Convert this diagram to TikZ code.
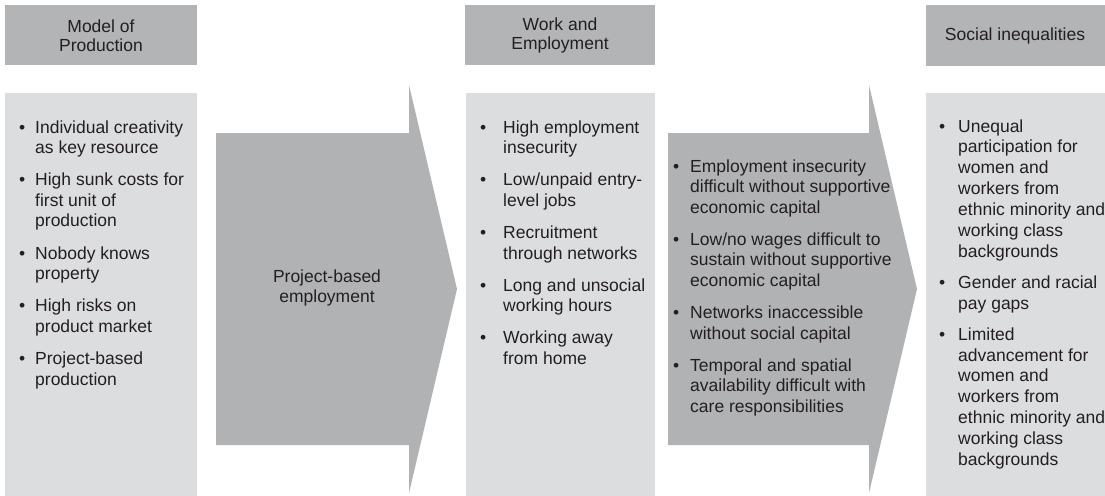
\documentclass[tikz,border=0pt]{standalone}
\usepackage{fontspec}
\setmainfont{Liberation Sans}
\usepackage{array}
\definecolor{hdrgray}{HTML}{B3B4B6}
\definecolor{boxgray}{HTML}{DCDDDF}
\definecolor{arrgray}{HTML}{B1B2B4}
\definecolor{txtgray}{HTML}{231F20}
\newcommand{\itemgap}{\\[11.5pt]}
\tikzset{
  hdrtext/.style={align=center, inner sep=0pt, text=txtgray, font=\fontsize{17.5}{19.5}\selectfont},
  listtext/.style={anchor=base west, inner sep=0pt, text=txtgray, font=\fontsize{17.5}{20.6}\selectfont}
}

\begin{document}
\begin{tikzpicture}[x=1pt, y=-1pt]
			%%%%% START %%%%%
			\useasboundingbox (0, 0) rectangle (1105, 495);
			
			% headers
			\draw[fill=hdrgray, draw=none] (5, 5) rectangle (197, 65);
			\draw[fill=hdrgray, draw=none] (465, 5) rectangle (655, 65);
			\draw[fill=hdrgray, draw=none] (926, 5) rectangle (1106, 66);
			\node[hdrtext] (mophead) at (101, 35.5) {Model of\\Production};
			\node[hdrtext] (wehead) at (560, 35.5) {Work and\\Employment};
			\node[hdrtext] (sihead) at (1015, 36) {Social inequalities};
			
			% light columns
			\draw[fill=boxgray, draw=none] (5, 93) rectangle (197, 496);
			\draw[fill=boxgray, draw=none] (466, 93) rectangle (655, 496);
			\draw[fill=boxgray, draw=none] (926, 93) rectangle (1106, 496);
			
			% arrows
			\draw[fill=arrgray, draw=none] (216, 133) -- (409, 133) -- (409, 85) -- (457, 289)
				-- (409, 493) -- (409, 445) -- (216, 445) -- cycle;
			\draw[fill=arrgray, draw=none] (668, 133) -- (869, 133) -- (869, 85) -- (917, 289)
				-- (869, 493) -- (869, 445) -- (668, 445) -- cycle;
			\node[hdrtext] (pbe) at (327, 288) {Project-based\\employment};
			
			% lists
			\node[listtext] (mopitems) at (19, 133) {\begin{tabular}[t]{@{}p{16pt}@{}l@{}}
				\textbullet & Individual creativity\\
				& as key resource\itemgap
				\textbullet & High sunk costs for\\
				& first unit of\\
				& production\itemgap
				\textbullet & Nobody knows\\
				& property\itemgap
				\textbullet & High risks on\\
				& product market\itemgap
				\textbullet & Project-based\\
				& production
			\end{tabular}};
			
			\node[listtext] (weitems) at (480, 133) {\begin{tabular}[t]{@{}p{23pt}@{}l@{}}
				\textbullet & High employment\\
				& insecurity\itemgap
				\textbullet & Low/unpaid entry-\\
				& level jobs\itemgap
				\textbullet & Recruitment\\
				& through networks\itemgap
				\textbullet & Long and unsocial\\
				& working hours\itemgap
				\textbullet & Working away\\
				& from home
			\end{tabular}};
			
			\node[listtext] (capitems) at (673, 172) {\begin{tabular}[t]{@{}p{17pt}@{}l@{}}
				\textbullet & Employment insecurity\\
				& difficult without supportive\\
				& economic capital\itemgap
				\textbullet & Low/no wages difficult to\\
				& sustain without supportive\\
				& economic capital\itemgap
				\textbullet & Networks inaccessible\\
				& without social capital\itemgap
				\textbullet & Temporal and spatial\\
				& availability difficult with\\
				& care responsibilities
			\end{tabular}};
			
			\node[listtext, font=\fontsize{17.5}{20.9}\selectfont] (siitems) at (939, 132) {\begin{tabular}[t]{@{}p{19pt}@{}l@{}}
				\textbullet & Unequal\\
				& participation for\\
				& women and\\
				& workers from\\
				& ethnic minority and\\
				& working class\\
				& backgrounds\\[10pt]
				\textbullet & Gender and racial\\
				& pay gaps\\[10pt]
				\textbullet & Limited\\
				& advancement for\\
				& women and\\
				& workers from\\
				& ethnic minority and\\
				& working class\\
				& backgrounds
			\end{tabular}};
			
			%%%%% END %%%%%
		\end{tikzpicture}
\end{document}
